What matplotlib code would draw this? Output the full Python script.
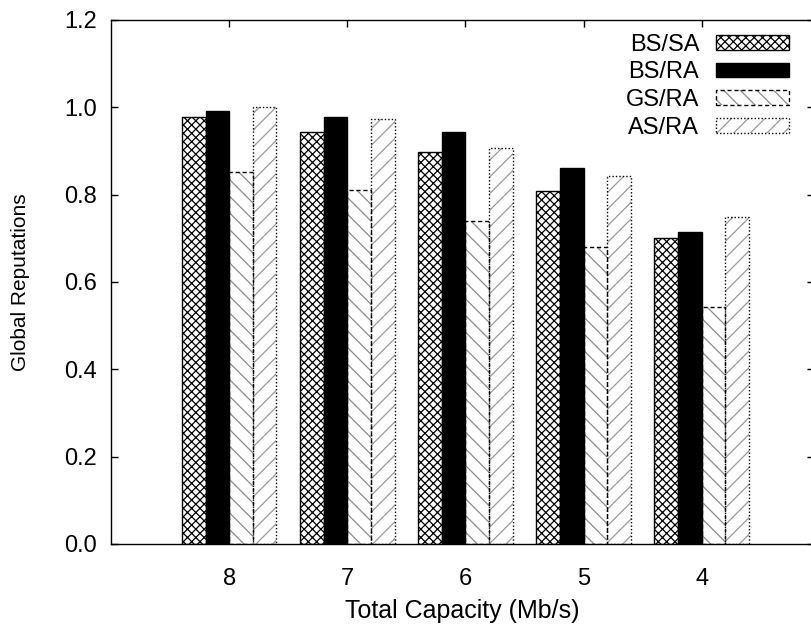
import numpy as np
import matplotlib
matplotlib.use("Agg")
import matplotlib.pyplot as plt
from matplotlib.patches import Patch

# Data
capacities = ["8", "7", "6", "5", "4"]
series_names = ["BS/SA", "BS/RA", "GS/RA", "AS/RA"]
bs_sa = [0.977, 0.943, 0.897, 0.809, 0.700]
bs_ra = [0.992, 0.978, 0.943, 0.860, 0.715]
gs_ra = [0.853, 0.811, 0.740, 0.681, 0.542]
as_ra = [1.000, 0.974, 0.908, 0.843, 0.749]
yticks = [0.0, 0.2, 0.4, 0.6, 0.8, 1.0, 1.2]

plt.rcParams["font.family"] = ["Liberation Sans", "DejaVu Sans"]
plt.rcParams["hatch.linewidth"] = 0.9

FS = 17

fig = plt.figure(figsize=(8.12, 6.26), dpi=100)
W, H = 812, 626
left_px, right_px, top_px, bottom_px = 111, 814, 20, 544
ax = fig.add_axes([left_px / W, 1 - bottom_px / H,
                   (right_px - left_px) / W, (bottom_px - top_px) / H])

groups = np.arange(len(capacities))
bw = 0.2
# (values, face, hatch, hatch colour, outline style)
styles = [
    (bs_sa, "white", "xxxx", "black", "solid"),
    (bs_ra, "black", None, "black", "solid"),
    (gs_ra, "white", "\\\\", "#8c8c8c", (0, (3, 2))),
    (as_ra, "white", "//", "#9a9a9a", (0, (1, 1.5))),
]

handles = []
for j, (vals, face, hatch, hcol, ls) in enumerate(styles):
    xs = groups + (j - 1.5) * bw
    ax.bar(xs, vals, bw, color=face, edgecolor=hcol, hatch=hatch,
           linewidth=0, zorder=2)
    ax.bar(xs, vals, bw, fill=False, edgecolor="black", linestyle=ls,
           linewidth=1.0, zorder=3)
    h1 = Patch(facecolor=face, edgecolor=hcol, hatch=hatch, linewidth=0)
    h2 = Patch(fill=False, edgecolor="black", linestyle=ls, linewidth=1.0)
    handles.append((h1, h2))

ax.set_xlim(-1.0, (right_px - 229.3) / 118.1)
ax.set_ylim(0, 1.2)

# category ticks at group centres, mirrored on top
ax.set_xticks(groups, capacities)
ax.tick_params(axis="x", direction="in", length=5, top=True, width=1.0,
               pad=17, labelsize=FS)

ax.set_yticks(yticks)
ax.set_yticklabels([f"{v:.1f}" for v in yticks])
ax.tick_params(axis="y", direction="in", length=5, right=True, pad=10,
               labelsize=FS, width=1.0)

for s in ax.spines.values():
    s.set_linewidth(1.0)

ax.set_ylabel("Global Reputations", fontsize=15)
ax.yaxis.set_label_coords(-0.115, 0.5)
ax.set_xlabel("Total Capacity (Mb/s)", fontsize=FS + 1)
ax.xaxis.set_label_coords(0.5, -0.105)

ax.legend(handles, series_names, loc="upper right",
          bbox_to_anchor=((789 - left_px) / (right_px - left_px), 0.974),
          frameon=False, markerfirst=False,
          fontsize=FS, handlelength=3.1, handleheight=0.57,
          labelspacing=0.24, handletextpad=0.7, borderpad=0,
          borderaxespad=0)

fig.savefig("out.png", dpi=100)
